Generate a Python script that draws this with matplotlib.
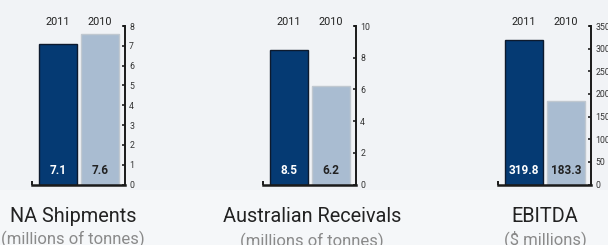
import matplotlib.pyplot as plt
from matplotlib.patches import Rectangle

years = ["2011", "2010"]
titles = ["NA Shipments", "Australian Receivals", "EBITDA"]
subtitles = ["(millions of tonnes)", "(millions of tonnes)", "($ millions)"]
values = [[7.1, 7.6], [8.5, 6.2], [319.8, 183.3]]
labels = [["7.1", "7.6"], ["8.5", "6.2"], ["319.8", "183.3"]]
ymax = [8, 10, 350]
ysteps = [1, 2, 50]

W, H = 608, 245
bg = "#f1f3f6"
bg_low = "#f5f7f9"
dark = "#053a73"
light = "#a9bcd1"
font = "Roboto"

fig = plt.figure(figsize=(W / 100, H / 100), dpi=100, facecolor=bg)
fig.patches.append(Rectangle((0, 0), 1, (H - 190) / H, transform=fig.transFigure,
                             facecolor=bg_low, edgecolor="none", zorder=0))

lefts = [32, 263, 498]
title_x = [73, 312, 545]
sub_y = [239, 241, 239]
for i in range(3):
    ax = fig.add_axes([lefts[i] / W, (H - 184.5) / H, 93 / W, 158.5 / H])
    ax.set_facecolor("none")
    ax.bar([0, 1], values[i], width=0.905, color=[dark, light],
           edgecolor=["#0d1a2e", "#c0c8d0"], linewidth=1.0, zorder=2)
    ax.set_xlim(-0.62, 1.595)
    ax.set_ylim(0, ymax[i])
    ax.yaxis.tick_right()
    ax.set_yticks(range(0, ymax[i] + 1, ysteps[i]))
    ax.tick_params(axis="y", direction="in", length=2.5, width=1.2, color="#222",
                   labelsize=6.3, labelcolor="#333", pad=3)
    for t in ax.get_yticklabels():
        t.set_family(font)
    ax.set_xticks([])
    for s in ["top", "left"]:
        ax.spines[s].set_visible(False)
    ax.spines["right"].set_linewidth(1.4)
    ax.spines["bottom"].set_linewidth(1.8)
    ax.spines["right"].set_color("#1a1a1a")
    ax.spines["bottom"].set_color("#1a1a1a")
    # small hooks at the ends of the axis lines
    ax.plot([-0.62, -0.62], [0, ymax[i] * 0.025], color="#1a1a1a", lw=1.4,
            clip_on=False, solid_capstyle="butt")
    ax.plot([1.595 - 0.05, 1.595], [ymax[i], ymax[i]], color="#1a1a1a", lw=1.4,
            clip_on=False, solid_capstyle="butt")
    for j in range(2):
        ax.annotate(years[j], (j, ymax[i]), xytext=(0, 3), textcoords="offset points",
                    ha="center", va="center", fontsize=7.8, color="#222", family=font)
        ax.text(j, ymax[i] * 0.09, labels[i][j], ha="center", va="center",
                fontsize=8.5, fontweight="bold", family=font,
                color="white" if j == 0 else "#222")
    fig.text(title_x[i] / W, 1 - 217 / H, titles[i], ha="center", va="center",
             fontsize=14.3, color="#222", family=font)
    fig.text(title_x[i] / W, 1 - sub_y[i] / H, subtitles[i], ha="center", va="center",
             fontsize=12, color="#8a8a8a", family=font)

fig.savefig("out.png", dpi=100, facecolor=bg)
